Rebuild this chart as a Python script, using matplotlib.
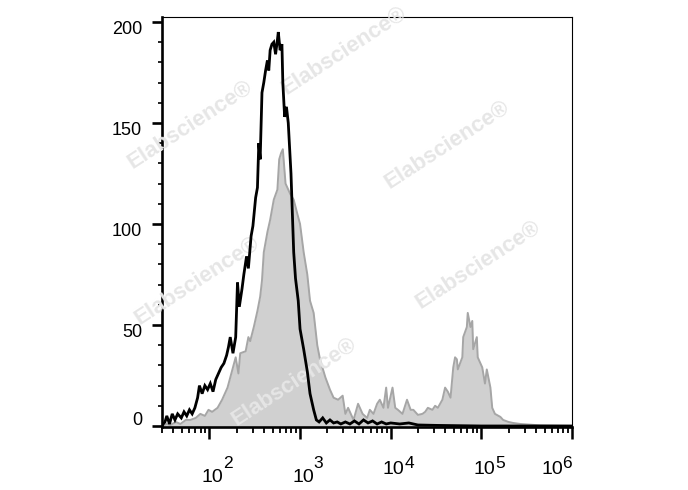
import numpy as np
import matplotlib
matplotlib.use('Agg')
import matplotlib.pyplot as plt
from matplotlib.ticker import LogLocator, MultipleLocator, NullFormatter, FixedLocator

# ---- data (x given as log10 of fluorescence intensity, y = count) ----
black_logx = [1.48, 1.51, 1.53, 1.56, 1.59, 1.62, 1.65, 1.69, 1.72, 1.75, 1.78, 1.81, 1.84,
              1.87, 1.89, 1.92, 1.95, 1.98, 2.01, 2.04, 2.07, 2.10, 2.13, 2.16, 2.19, 2.21,
              2.23, 2.26, 2.29, 2.31, 2.33, 2.36, 2.38, 2.41, 2.43, 2.46, 2.48, 2.51, 2.53,
              2.545, 2.56, 2.58, 2.60, 2.62, 2.64, 2.655, 2.67, 2.69, 2.71, 2.73, 2.75, 2.76,
              2.78, 2.80, 2.81, 2.83, 2.85, 2.87, 2.90, 2.93, 2.95, 2.98, 3.00, 3.04, 3.08,
              3.11, 3.15, 3.18, 3.21, 3.25, 3.29, 3.33, 3.37, 3.41, 3.45, 3.50, 3.55, 3.60,
              3.65, 3.70, 3.75, 3.80, 3.85, 3.90, 3.95, 4.00, 4.10, 4.20, 4.30, 4.50, 5.00, 6.00]
black_count = [0.5, 2, 5, 1, 6, 3, 6, 4, 7, 5, 8, 6, 9,
               14, 20, 16, 20, 18, 21, 17, 23, 26, 29, 31, 35, 39,
               44, 36, 44, 71, 59, 68, 75, 84, 78, 94, 99, 113, 118,
               140, 132, 165, 170, 176, 181, 176, 186, 189, 190, 184, 191, 195,
               186, 189, 170, 153, 158, 150, 125, 86, 73, 62, 48, 38, 27,
               16, 8, 3, 2, 4, 1.5, 3, 1.5, 2, 1, 2, 1, 2.5,
               1, 3, 1.5, 2.5, 1, 2, 1, 1.5, 1, 1.5, 0.5, 0.3, 0, 0]

gray_logx = [1.48, 1.53, 1.57, 1.63, 1.68, 1.74, 1.79, 1.85, 1.90, 1.95, 1.99, 2.03, 2.09,
             2.14, 2.20, 2.23, 2.29, 2.32, 2.34, 2.40, 2.43, 2.45, 2.49, 2.53, 2.56, 2.58,
             2.60, 2.64, 2.67, 2.71, 2.75, 2.77, 2.79, 2.81, 2.84, 2.89, 2.93, 2.97, 3.00,
             3.04, 3.08, 3.11, 3.15, 3.19, 3.22, 3.28, 3.33, 3.37, 3.42, 3.47, 3.50, 3.53,
             3.59, 3.64, 3.69, 3.74, 3.77, 3.81, 3.85, 3.88, 3.92, 3.95, 3.97, 4.02, 4.05,
             4.08, 4.13, 4.18, 4.22, 4.25, 4.30, 4.35, 4.38, 4.41, 4.46, 4.49, 4.52, 4.57,
             4.60, 4.63, 4.66, 4.69, 4.71, 4.73, 4.74, 4.79, 4.80, 4.84, 4.85, 4.88, 4.90,
             4.91, 4.95, 4.96, 5.01, 5.04, 5.06, 5.10, 5.12, 5.15, 5.21, 5.24, 5.30, 5.35,
             5.43, 5.65, 6.00]
gray_count = [0, 1, 0.5, 2, 1, 3, 3, 4, 6, 5, 8, 7, 9,
              13, 19, 24, 34, 26, 36, 37, 44, 42, 49, 57, 64, 72,
              86, 96, 102, 112, 117, 132, 135, 137, 120, 115, 112, 105, 100,
              86, 75, 62, 56, 40, 33, 24, 18, 14, 13, 15, 6, 9,
              3, 11, 6, 4, 8, 6, 11, 13, 9, 19, 9, 19, 9,
              8, 6, 13, 8, 8, 5.5, 6, 7, 9, 8, 10, 9, 13,
              19, 17, 14, 29, 34, 33, 28, 34, 44, 49, 56, 49, 52,
              38, 44, 34, 29, 21, 28, 19, 9, 6, 4.5, 3, 2, 1.5,
              1, 0.3, 0]

y_tick_values = [0, 50, 100, 150, 200]
y_tick_labels = ['0', '50', '100', '150', '200']
x_tick_exponents = [2, 3, 4, 5, 6]
watermark_text = 'Elabscience\u00ae'

# ---- style ----
plt.rcParams['font.family'] = ['Liberation Sans', 'DejaVu Sans']
W, H = 688, 490
fig = plt.figure(figsize=(W / 100, H / 100), dpi=100)
ax_left, ax_right, ax_top, ax_bottom = 162, 572, 16.7, 427
ax = fig.add_axes([ax_left / W, 1 - ax_bottom / H, (ax_right - ax_left) / W, (ax_bottom - ax_top) / H])

gx = 10 ** np.array(gray_logx)
bx = 10 ** np.array(black_logx)
ax.fill_between(gx, gray_count, 0, color='#d0d0d0', lw=0, zorder=1)
ax.plot(gx, gray_count, color='#a6a6a6', lw=1.4, zorder=2)
ax.plot(bx, black_count, color='black', lw=2.0, zorder=4, solid_joinstyle='miter')

ax.set_xscale('log')
ax.set_xlim(30, 1e6)
ax.set_ylim(-0.5, 202.6)

# spines
ax.spines['left'].set_linewidth(1.9)
ax.spines['bottom'].set_linewidth(1.9)
ax.spines['top'].set_linewidth(0.8)
ax.spines['right'].set_linewidth(0.8)

# ticks
ax.xaxis.set_major_locator(FixedLocator([10.0 ** e for e in x_tick_exponents]))
ax.xaxis.set_minor_locator(LogLocator(base=10, subs=np.arange(2, 10), numticks=30))
ax.xaxis.set_major_formatter(NullFormatter())
ax.xaxis.set_minor_formatter(NullFormatter())
ax.yaxis.set_major_locator(FixedLocator(y_tick_values))
ax.yaxis.set_minor_locator(MultipleLocator(10))
ax.yaxis.set_major_formatter(NullFormatter())
ax.tick_params(axis='x', which='major', direction='out', length=8.5, width=1.8)
ax.tick_params(axis='x', which='minor', direction='out', length=4.5, width=1.3)
ax.tick_params(axis='y', which='major', direction='out', length=7.2, width=1.9)
ax.tick_params(axis='y', which='minor', direction='out', length=3.0, width=1.2)
ax.tick_params(top=False, right=False, which='both')

# y tick labels (manual offsets as in reference)
for v, lab in zip(y_tick_values, y_tick_labels):
    dy = 4.3 if v == 0 else -5.5
    ax.annotate(lab, xy=(0, v), xycoords=('axes fraction', 'data'), xytext=(-14.4, dy),
                textcoords='offset points', ha='right', va='center', fontsize=13,
                annotation_clip=False)

# x tick labels 10^n
for e in x_tick_exponents:
    if e == 6:
        bx_off, sx_off = -14.4, -6.8
    else:
        bx_off, sx_off = 2.2, 9.8
    by_off = -39.4 if e in (2, 3) else -33.8
    ax.annotate('10', xy=(10.0 ** e, 0), xycoords=('data', 'axes fraction'),
                xytext=(bx_off, by_off), textcoords='offset points', ha='center',
                va='baseline', fontsize=14, annotation_clip=False)
    ax.annotate(str(e), xy=(10.0 ** e, 0), xycoords=('data', 'axes fraction'),
                xytext=(sx_off, -29.5), textcoords='offset points', ha='left',
                va='baseline', fontsize=12.5, annotation_clip=False)

# watermarks (figure pixel centres)
wm_centres = [(190, 125), (344, 51), (447, 145), (478, 265), (197, 281), (294, 382)]
for cx, cy in wm_centres:
    ax.text(cx / W, 1 - cy / H, watermark_text, transform=fig.transFigure, rotation=33,
            ha='center', va='center', fontsize=16, fontweight='bold', color='#e6e6e6',
            zorder=3, rotation_mode='anchor')

fig.savefig('out.png', dpi=100)
